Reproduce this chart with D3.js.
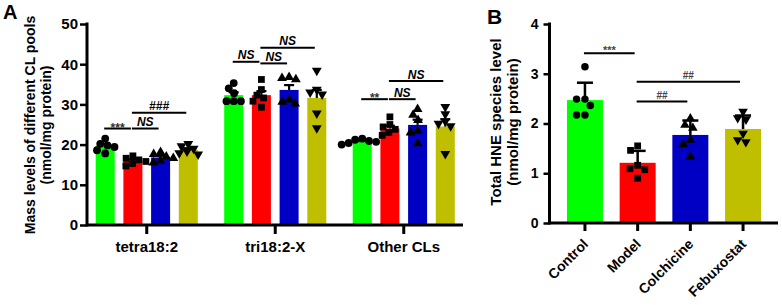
<!DOCTYPE html>
<html><head><meta charset="utf-8">
<script src="https://cdn.jsdelivr.net/npm/d3@7"></script>
<style>
html,body{margin:0;padding:0;background:#fff;}
svg{display:block;font-family:"Liberation Sans",Arial,sans-serif;}
</style></head>
<body><svg id="c" width="782" height="305"></svg>
<script>
// ---------- Panel A data ----------
const catsA = ["tetra18:2", "tri18:2-X", "Other CLs"];
const seriesA = ["Control", "Model", "Colchicine", "Febuxostat"];
const meanA = [
  [19.7, 16.0, 16.8, 18.7],
  [32.3, 32.3, 33.6, 31.6],
  [20.7, 24.0, 24.9, 24.5]
];
const semA = [
  [0.5, 0.4, 0.4, 0.4],
  [0.7, 1.0, 1.2, 2.0],
  [0.2, 0.7, 1.3, 1.8]
];
const pointsA = [
  [[21.5, 20.2, 19.8, 19.4, 18.6, 17.8], [17.2, 16.6, 16.2, 15.8, 15.3, 14.7], [18.1, 17.6, 17.0, 16.6, 16.0, 15.5], [20.2, 19.6, 19.0, 18.3, 17.9, 17.6]],
  [[35.3, 34.0, 32.8, 30.8, 30.8, 30.8], [36.2, 33.7, 32.3, 31.6, 30.8, 29.3], [36.8, 36.2, 36.5, 31.2, 30.6, 30.2], [38.4, 33.7, 33.0, 32.5, 27.8, 24.1]],
  [[21.5, 21.2, 20.9, 20.7, 20.4, 20.0], [26.9, 25.0, 24.4, 23.8, 23.0, 22.3], [28.8, 27.4, 26.1, 23.4, 23.0, 20.3], [29.4, 27.6, 25.8, 25.2, 24.6, 17.7]]
];
const yTicksA = [0, 10, 20, 30, 40, 50];
const sigA = [
  {cat: 0, from: 0, to: 1, y: 24.0, label: "***"},
  {cat: 0, from: 1, to: 2, y: 24.0, label: "NS"},
  {cat: 0, from: 1, to: 3, y: 27.9, label: "###"},
  {cat: 1, from: 0, to: 1, y: 40.6, label: "NS"},
  {cat: 1, from: 1, to: 2, y: 40.2, label: "NS"},
  {cat: 1, from: 1, to: 3, y: 44.1, label: "NS"},
  {cat: 2, from: 0, to: 1, y: 31.3, label: "**"},
  {cat: 2, from: 1, to: 2, y: 31.3, label: "NS"},
  {cat: 2, from: 1, to: 3, y: 35.8, label: "NS"}
];

// ---------- Panel B data ----------
const catsB = ["Control", "Model", "Colchicine", "Febuxostat"];
const meanB = [2.47, 1.21, 1.77, 1.89];
const semB = [0.35, 0.24, 0.29, 0.27];
const pointsB = [
  [3.14, 2.49, 2.49, 2.36, 2.17, 2.17],
  [1.55, 1.46, 1.16, 1.09, 1.07, 0.90],
  [2.10, 1.97, 1.91, 1.67, 1.58, 1.33],
  [2.24, 2.11, 2.08, 1.80, 1.67, 1.63]
];
const yTicksB = [0, 1, 2, 3, 4];
const sigB = [
  {from: 0, to: 1, y: 3.41, label: "***"},
  {from: 1, to: 3, y: 2.84, label: "##"},
  {from: 1, to: 2, y: 2.44, label: "##"}
];

const colors = ["#00ff00", "#ff0000", "#0000c4", "#bfbf00"];
const shapes = [d3.symbolCircle, d3.symbolSquare, d3.symbolTriangle, "down"];
const FONT = '"Liberation Sans",Arial,sans-serif';

const svg = d3.select("#c");

function marker(g, shapeIdx, x, y, size) {
  const s = shapes[shapeIdx];
  if (s === "down") {
    g.append("path").attr("d", d3.symbol(d3.symbolTriangle, size)())
      .attr("transform", `translate(${x},${y}) rotate(180)`).attr("fill", "#000");
  } else {
    g.append("path").attr("d", d3.symbol(s, size)())
      .attr("transform", `translate(${x},${y})`).attr("fill", "#000");
  }
}

// simple beeswarm: returns x offsets for pixel ys
function swarm(ys, r) {
  const idx = ys.map((y, i) => i).sort((a, b) => ys[a] - ys[b]);
  const placed = [];
  const out = new Array(ys.length).fill(0);
  const d = 2 * r;
  idx.forEach(i => {
    const y = ys[i];
    const blocks = placed.filter(p => Math.abs(p.y - y) < d).map(p => {
      const w = Math.sqrt(d * d - (p.y - y) * (p.y - y));
      return [p.x - w, p.x + w];
    });
    const cands = [0];
    blocks.forEach(b => { cands.push(b[0], b[1]); });
    cands.sort((a, b) => Math.abs(a) - Math.abs(b) || a - b);
    let chosen = 0;
    for (const c of cands) {
      if (blocks.every(b => c <= b[0] + 1e-6 || c >= b[1] - 1e-6)) { chosen = c; break; }
    }
    placed.push({x: chosen, y});
    out[i] = chosen;
  });
  return out;
}

// ================= Panel A =================
const gA = svg.append("g");
const yA = d3.scaleLinear().domain([0, 50]).range([225, 24]);
const xA = d3.scaleBand().domain(catsA).range([82.5, 468]).padding(0);
const xAi = d3.scaleBand().domain(d3.range(4)).range([0, xA.bandwidth()]).paddingInner(0.314).paddingOuter(0.477);
const AX = 87;

catsA.forEach((c, ci) => {
  for (let si = 0; si < 4; si++) {
    const x0 = xA(c) + xAi(si), bw = xAi.bandwidth(), cx = x0 + bw / 2;
    gA.append("rect").attr("x", x0).attr("y", yA(meanA[ci][si]))
      .attr("width", bw).attr("height", yA(0) - yA(meanA[ci][si])).attr("fill", colors[si]);
    const ys = pointsA[ci][si].map(v => yA(v));
    const offs = swarm(ys, 3.6);
    ys.forEach((y, k) => marker(gA, si, cx + offs[k], y, si === 0 ? 48 : (si === 1 ? 46 : 42)));
    const yt = yA(meanA[ci][si] + semA[ci][si]);
    gA.append("line").attr("x1", cx).attr("x2", cx).attr("y1", yA(meanA[ci][si])).attr("y2", yt)
      .attr("stroke", "#000").attr("stroke-width", 2.2);
    gA.append("line").attr("x1", cx - 5).attr("x2", cx + 5).attr("y1", yt).attr("y2", yt)
      .attr("stroke", "#000").attr("stroke-width", 2.2);
  }
});

const yAxisA = gA.append("g").attr("transform", `translate(${AX},0)`)
  .call(d3.axisLeft(yA).tickValues(yTicksA).tickFormat(d3.format("d")).tickSize(7).tickPadding(2).tickSizeOuter(0));
yAxisA.select(".domain").attr("stroke-width", 3).attr("d", `M0,${yA(0) + 1.5}V${yA(50) - 1.5}`);
yAxisA.selectAll(".tick line").attr("stroke-width", 2.5);
yAxisA.selectAll(".tick text").attr("font-size", 15).attr("font-weight", "bold").attr("font-family", FONT).attr("fill", "#000");

const xAxisA = gA.append("g").attr("transform", `translate(0,${yA(0)})`)
  .call(d3.axisBottom(xA).tickSize(9).tickPadding(7).tickSizeOuter(0));
xAxisA.select(".domain").attr("stroke-width", 3).attr("d", `M${AX},0H463`);
xAxisA.selectAll(".tick line").attr("stroke-width", 3);
xAxisA.selectAll(".tick text").attr("font-size", 15).attr("font-weight", "bold").attr("font-family", FONT).attr("fill", "#000");

gA.append("text").attr("transform", "translate(35,125) rotate(-90)").attr("text-anchor", "middle")
  .attr("font-size", 14).attr("font-weight", "bold").attr("font-family", FONT).text("Mass levels of different CL pools");
gA.append("text").attr("transform", "translate(51,125) rotate(-90)").attr("text-anchor", "middle")
  .attr("font-size", 14).attr("font-weight", "bold").attr("font-family", FONT).text("(nmol/mg protein)");

sigA.forEach(s => {
  const c = catsA[s.cat];
  const xa = xA(c) + xAi(s.from) + xAi.bandwidth() / 2 - 1;
  const xb = xA(c) + xAi(s.to) + xAi.bandwidth() / 2 - 2;
  const y = yA(s.y);
  gA.append("line").attr("x1", xa).attr("x2", xb).attr("y1", y).attr("y2", y).attr("stroke", "#000").attr("stroke-width", 2);
  const isStar = s.label.startsWith("*");
  gA.append("text").attr("x", (xa + xb) / 2).attr("y", isStar ? y + 3 : y - 2.5).attr("text-anchor", "middle")
    .attr("font-size", isStar ? 12 : 12).attr("font-weight", "bold").attr("font-style", isStar ? "normal" : "italic")
    .attr("font-family", FONT).attr("fill", isStar ? "#333" : "#000").text(s.label);
});

gA.append("text").attr("x", 3).attr("y", 19).attr("font-size", 20).attr("font-weight", "bold").attr("font-family", FONT).text("A");

// ================= Panel B =================
const gB = svg.append("g");
const yB = d3.scaleLinear().domain([0, 4]).range([223, 24]);
const xB = d3.scaleBand().domain(catsB).range([558.6, 769.4]).paddingInner(0.317).paddingOuter(0.1585);
const BX = 549.5;

catsB.forEach((c, i) => {
  const x0 = xB(c), bw = xB.bandwidth(), cx = x0 + bw / 2;
  gB.append("rect").attr("x", x0).attr("y", yB(meanB[i])).attr("width", bw)
    .attr("height", yB(0) - yB(meanB[i])).attr("fill", colors[i]);
  const ys = pointsB[i].map(v => yB(v));
  const offs = swarm(ys, 4.2);
  const yt = yB(meanB[i] + semB[i]);
  gB.append("line").attr("x1", cx).attr("x2", cx).attr("y1", yB(meanB[i])).attr("y2", yt)
    .attr("stroke", "#000").attr("stroke-width", 2.5);
  gB.append("line").attr("x1", cx - 8).attr("x2", cx + 8).attr("y1", yt).attr("y2", yt)
    .attr("stroke", "#000").attr("stroke-width", 2.5);
  ys.forEach((y, k) => marker(gB, i, cx + offs[k], y, i === 0 ? 44 : (i === 1 ? 46 : 40)));
});

const yAxisB = gB.append("g").attr("transform", `translate(${BX},0)`)
  .call(d3.axisLeft(yB).tickValues(yTicksB).tickFormat(d3.format("d")).tickSize(6).tickPadding(5).tickSizeOuter(0));
yAxisB.select(".domain").attr("stroke-width", 3).attr("d", `M0,${yB(0) + 1.5}V${yB(4) - 1.5}`);
yAxisB.selectAll(".tick line").attr("stroke-width", 2.5);
yAxisB.selectAll(".tick text").attr("font-size", 14).attr("font-weight", "bold").attr("font-family", FONT).attr("fill", "#000");

const xAxisB = gB.append("g").attr("transform", `translate(0,${yB(0)})`)
  .call(d3.axisBottom(xB).tickSize(8).tickSizeOuter(0));
xAxisB.select(".domain").attr("stroke-width", 3).attr("d", `M${BX},0H778`);
xAxisB.selectAll(".tick line").attr("stroke-width", 3);
xAxisB.selectAll(".tick text").attr("font-size", 14).attr("font-weight", "bold").attr("font-family", FONT).attr("fill", "#000")
  .attr("text-anchor", "end").attr("dy", 0).attr("y", 0)
  .attr("transform", "translate(4,22) rotate(-45)");

gB.append("text").attr("transform", "translate(501,122) rotate(-90)").attr("text-anchor", "middle")
  .attr("font-size", 15).attr("font-weight", "bold").attr("font-family", FONT).text("Total HNE species level");
gB.append("text").attr("transform", "translate(518,122) rotate(-90)").attr("text-anchor", "middle")
  .attr("font-size", 15).attr("font-weight", "bold").attr("font-family", FONT).text("(nmol/mg protein)");

sigB.forEach(s => {
  const xa = xB(catsB[s.from]) + xB.bandwidth() / 2 - 1;
  const xb = xB(catsB[s.to]) + xB.bandwidth() / 2 - 3;
  const y = yB(s.y);
  gB.append("line").attr("x1", xa).attr("x2", xb).attr("y1", y).attr("y2", y).attr("stroke", "#000").attr("stroke-width", 2);
  const isStar = s.label.startsWith("*");
  gB.append("text").attr("x", (xa + xb) / 2).attr("y", isStar ? y + 1 : y - 3).attr("text-anchor", "middle")
    .attr("font-size", isStar ? 11 : 10).attr("font-weight", "bold").attr("font-family", FONT)
    .attr("fill", "#444").text(s.label);
});

gB.append("text").attr("x", 487).attr("y", 24).attr("font-size", 21).attr("font-weight", "bold").attr("font-family", FONT).text("B");
</script></body></html>
